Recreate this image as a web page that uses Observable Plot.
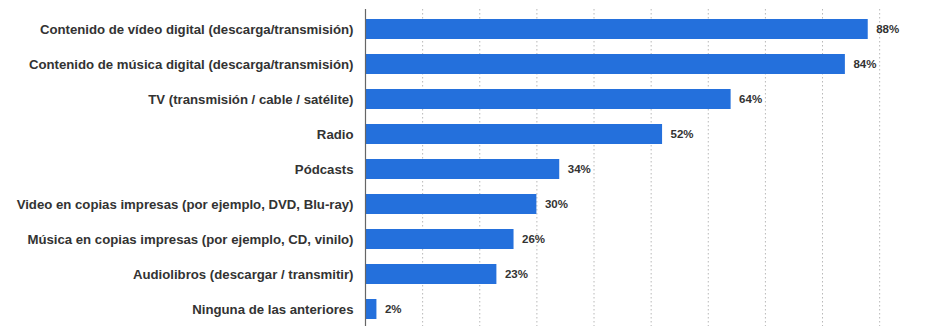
<!DOCTYPE html>
<html>
<head>
<meta charset="utf-8">
<script src="https://cdn.jsdelivr.net/npm/d3@7"></script>
<script src="https://cdn.jsdelivr.net/npm/@observablehq/plot@0.6"></script>
<style>
  html, body { margin: 0; padding: 0; background: #fff; overflow: hidden; }
  #chart svg { display: block; }
</style>
</head>
<body>
<div id="chart"></div>
<script>
const categories = [
  "Contenido de vídeo digital (descarga/transmisión)",
  "Contenido de música digital (descarga/transmisión)",
  "TV (transmisión / cable / satélite)",
  "Radio",
  "Pódcasts",
  "Video en copias impresas (por ejemplo, DVD, Blu-ray)",
  "Música en copias impresas (por ejemplo, CD, vinilo)",
  "Audiolibros (descargar / transmitir)",
  "Ninguna de las anteriores"
];
const values = [88, 84, 64, 52, 34, 30, 26, 23, 2];
const gridTicks = [10, 20, 30, 40, 50, 60, 70, 80, 90];

const data = categories.map((c, i) => ({category: c, value: values[i]}));

const chart = Plot.plot({
  width: 926,
  height: 328,
  marginLeft: 365,
  marginRight: 0,
  marginTop: 9,
  marginBottom: 0,
  style: {fontFamily: "'Liberation Sans', Arial, sans-serif", fontSize: "11px", background: "#fff"},
  x: {domain: [0, 98.2], axis: null},
  y: {domain: categories, paddingInner: 0.44, paddingOuter: 0.24, label: null},
  marks: [
    Plot.ruleX(gridTicks, {stroke: "#b8b8b8", strokeDasharray: "1.5,2.5", strokeWidth: 1}),
    Plot.barX(data, {x: "value", y: "category", fill: "#2470dc"}),
    Plot.ruleX([0], {stroke: "#666", strokeWidth: 1.2}),
    Plot.text(data, {x: "value", y: "category", text: d => d.value + "%", textAnchor: "start", dx: 8, fill: "#333", fontWeight: "bold", fontSize: 11.5}),
    Plot.axisY({tickSize: 0, tickPadding: 12, fontWeight: "bold", fill: "#333", fontSize: 13.2, label: null})
  ]
});
document.getElementById("chart").appendChild(chart);
</script>
</body>
</html>
